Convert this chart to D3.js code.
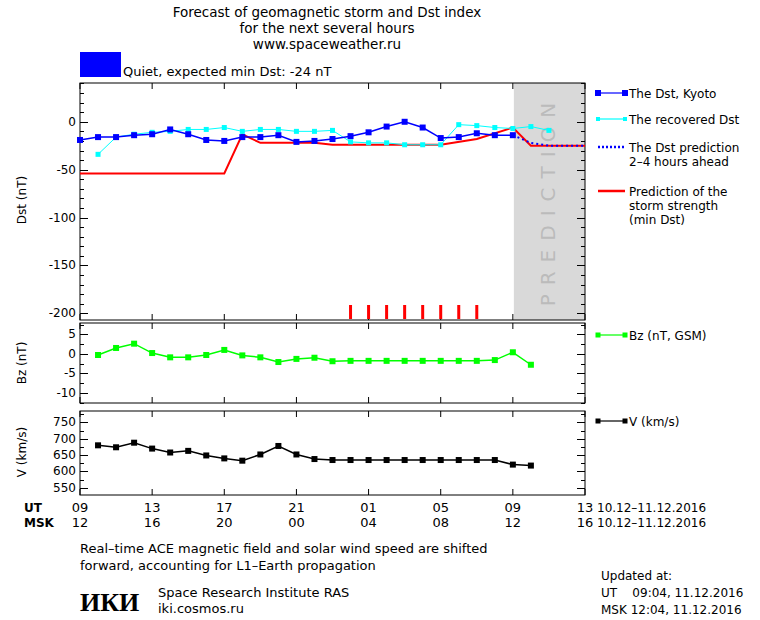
<!DOCTYPE html>
<html><head><meta charset="utf-8">
<script src="https://cdn.jsdelivr.net/npm/d3@7"></script>
<style>body{margin:0;background:#fff}text{font-family:"DejaVu Sans",sans-serif;font-size:12px;fill:#000;white-space:pre}</style>
</head><body><svg id="c" width="760" height="620"></svg>
<script>
const dstHours = d3.range(9, 34);
const dstKyoto = [-19,-16,-16,-14,-13,-8,-13,-19,-20,-16,-16,-14,-21,-20,-18,-15,-11,-5,0,-6,-17,-16,-12,-14,-14];
const recHours = d3.range(10, 36);
const dstRecovered = [-34,-16,-13,-11,-10,-8,-8,-6,-10,-8,-8,-10,-10,-9,-21,-22,-22,-24,-24,-24,-3,-4,-6,-7,-5,-9];
const stormHours = [9,17,18,19,22,23,29,31,33,34,37];
const stormMinDst = [-54,-54,-13,-22,-22,-24,-24,-18,-6,-25,-25];
const predHours = [33,34,35,37];
const predDst = [-14,-22,-25,-25];
const stormTickHours = [24,25,26,27,28,29,30,31];
const swHours = d3.range(10, 35);
const bz = [-0.3,1.5,2.6,0.2,-0.9,-0.9,-0.3,1.0,-0.4,-0.9,-2.1,-1.3,-1.0,-1.9,-1.8,-1.8,-1.8,-1.8,-1.8,-1.8,-1.8,-1.8,-1.6,0.4,-2.8];
const speed = [680,674,688,670,658,663,649,640,633,652,678,652,638,635,635,635,635,635,635,635,635,635,635,621,618];
const utLabels = ["09","13","17","21","01","05","09","13"];
const mskLabels = ["12","16","20","00","04","08","12","16"];
const dstTicks = [0,-50,-100,-150,-200];
const bzTicks = [5,0,-5,-10];
const vTicks = [750,700,650,600,550];

const svg = d3.select("#c");
const x = d3.scaleLinear().domain([9,37]).range([80,585]);
const yD = d3.scaleLinear().domain([-207,40.5]).range([320,83]);
const yB = d3.scaleLinear().domain([-12.6,7.9]).range([403,323]);
const yV = d3.scaleLinear().domain([528,785]).range([495,411]);
const majorHours = d3.range(9,38,4);

function panel(y, ticks, minorStep, label, labelY){
  const [b,t]=y.range(); const dom=y.domain();
  svg.append("rect").attr("x",80).attr("y",t).attr("width",505).attr("height",b-t).attr("fill","none").attr("stroke","#000");
  const minors=d3.range(Math.ceil(dom[0]/minorStep)*minorStep, dom[1], minorStep);
  minors.forEach(v=>{const yy=Math.round(y(v))+0.5;
    const big=ticks.includes(v);
    svg.append("line").attr("x1",80).attr("x2",80+(big?8:4)).attr("y1",yy).attr("y2",yy).attr("stroke","#000");
    svg.append("line").attr("x1",585).attr("x2",585-(big?8:4)).attr("y1",yy).attr("y2",yy).attr("stroke","#000");});
  ticks.forEach(v=>svg.append("text").attr("x",76).attr("y",y(v)+4).attr("text-anchor","end").text(v));
  majorHours.forEach(h=>{svg.append("line").attr("x1",x(h)).attr("x2",x(h)).attr("y1",t).attr("y2",t+6).attr("stroke","#000");
    svg.append("line").attr("x1",x(h)).attr("x2",x(h)).attr("y1",b).attr("y2",b-6).attr("stroke","#000");});
  svg.append("text").attr("transform",`translate(26,${labelY}) rotate(-90)`).attr("text-anchor","middle").text(label);
}

svg.append("rect").attr("x",x(33)+1).attr("y",83).attr("width",x(37)-x(33)-1).attr("height",237).attr("fill","#d9d9d9");
svg.append("text").attr("transform",`translate(${x(35)+6},200) rotate(-90)`).attr("text-anchor","middle")
  .style("font-size","20px").style("fill","#bbb").style("letter-spacing","9px").text("PREDICTION");

panel(yD, dstTicks, 10, "Dst (nT)", 200);
panel(yB, bzTicks, 2.5, "Bz (nT)", 363);
panel(yV, vTicks, 25, "V (km/s)", 452);

const line=(xs,ys,yS)=>d3.line().x((d,i)=>x(xs[i])).y((d,i)=>yS(ys[i]))(ys);
svg.append("path").attr("d",line(stormHours,stormMinDst,yD)).attr("fill","none").attr("stroke","#f00").attr("stroke-width",2);
stormTickHours.forEach(h=>svg.append("line").attr("x1",x(h)).attr("x2",x(h)).attr("y1",305).attr("y2",319).attr("stroke","#f00").attr("stroke-width",3));
svg.append("path").attr("d",line(recHours,dstRecovered,yD)).attr("fill","none").attr("stroke","#00ffff");
dstRecovered.forEach((v,i)=>svg.append("rect").attr("x",x(recHours[i])-2.5).attr("y",yD(v)-2.5).attr("width",5).attr("height",5).attr("fill","#00ffff"));
svg.append("path").attr("d",line(dstHours,dstKyoto,yD)).attr("fill","none").attr("stroke","#0000ff").attr("stroke-width",1.5);
dstKyoto.forEach((v,i)=>svg.append("rect").attr("x",x(dstHours[i])-3).attr("y",yD(v)-3).attr("width",6).attr("height",6).attr("fill","#0000ff"));
svg.append("path").attr("d",line(predHours,predDst,yD)).attr("fill","none").attr("stroke","#0000ff").attr("stroke-width",2).attr("stroke-dasharray","2,3");
svg.append("path").attr("d",line(swHours,bz,yB)).attr("fill","none").attr("stroke","#00ff00").attr("stroke-width",1.5);
bz.forEach((v,i)=>svg.append("rect").attr("x",x(swHours[i])-3).attr("y",yB(v)-3).attr("width",6).attr("height",6).attr("fill","#00ff00"));
svg.append("path").attr("d",line(swHours,speed,yV)).attr("fill","none").attr("stroke","#000").attr("stroke-width",1.5);
speed.forEach((v,i)=>svg.append("rect").attr("x",x(swHours[i])-3).attr("y",yV(v)-3).attr("width",6).attr("height",6).attr("fill","#000"));

["Forecast of geomagnetic storm and Dst index","for the next several hours","www.spaceweather.ru"].forEach((t,i)=>
  svg.append("text").attr("x",327).attr("y",17+i*16).attr("text-anchor","middle").style("font-size","13.5px").text(t));
svg.append("rect").attr("x",80).attr("y",52).attr("width",41).attr("height",25).attr("fill","#0000ff");
svg.append("text").attr("x",123).attr("y",76).style("font-size","13px").text("Quiet, expected min Dst: -24 nT");

function leg(y, color, dash, sq, lines){
  svg.append("line").attr("x1",598).attr("x2",625).attr("y1",y).attr("y2",y).attr("stroke",color).attr("stroke-width",dash||sq===0?2.5:1.2).attr("stroke-dasharray",dash||null);
  if(sq){[598,625].forEach(xx=>svg.append("rect").attr("x",xx-sq/2).attr("y",y-sq/2).attr("width",sq).attr("height",sq).attr("fill",color));}
  lines.forEach((t,i)=>svg.append("text").attr("x",629).attr("y",y+5+i*14).text(t));
}
leg(93,"#0000ff",null,6,["The Dst, Kyoto"]);
leg(119,"#00ffff",null,4,["The recovered Dst"]);
leg(147,"#0000ff","2,2",null,["The Dst prediction","2\u20134 hours ahead"]);
leg(191,"#ff0000",null,0,["Prediction of the","storm strength","(min Dst)"]);
leg(335,"#00ff00",null,5,["Bz (nT, GSM)"]);
leg(421,"#000",null,5,["V (km/s)"]);

svg.append("text").attr("x",24).attr("y",512).style("font-weight","bold").text("UT");
svg.append("text").attr("x",24).attr("y",527).style("font-weight","bold").text("MSK");
utLabels.forEach((t,i)=>svg.append("text").attr("x",x(majorHours[i])).attr("y",512).attr("text-anchor","middle").style("font-size","13px").text(t));
mskLabels.forEach((t,i)=>svg.append("text").attr("x",x(majorHours[i])).attr("y",527).attr("text-anchor","middle").style("font-size","13px").text(t));
svg.append("text").attr("x",597).attr("y",512).text("10.12\u201311.12.2016");
svg.append("text").attr("x",597).attr("y",527).text("10.12\u201311.12.2016");

svg.append("text").attr("x",80).attr("y",553).style("font-size","13px").text("Real\u2013time ACE magnetic field and solar wind speed are shifted");
svg.append("text").attr("x",80).attr("y",570).style("font-size","13px").text("forward, accounting for L1\u2013Earth propagation");
svg.append("text").attr("x",80).attr("y",611).style("font-size","26px").style("font-weight","bold").style("font-family","Liberation Serif").text("ИКИ");
svg.append("text").attr("x",158).attr("y",597).style("font-size","13px").text("Space Research Institute RAS");
svg.append("text").attr("x",158).attr("y",613).style("font-size","13px").text("iki.cosmos.ru");
svg.append("text").attr("x",601).attr("y",580).text("Updated at:");
svg.append("text").attr("x",601).attr("y",597).text("UT\u00a0\u00a0\u00a0 09:04, 11.12.2016");
svg.append("text").attr("x",601).attr("y",614).text("MSK 12:04, 11.12.2016");
</script></body></html>
